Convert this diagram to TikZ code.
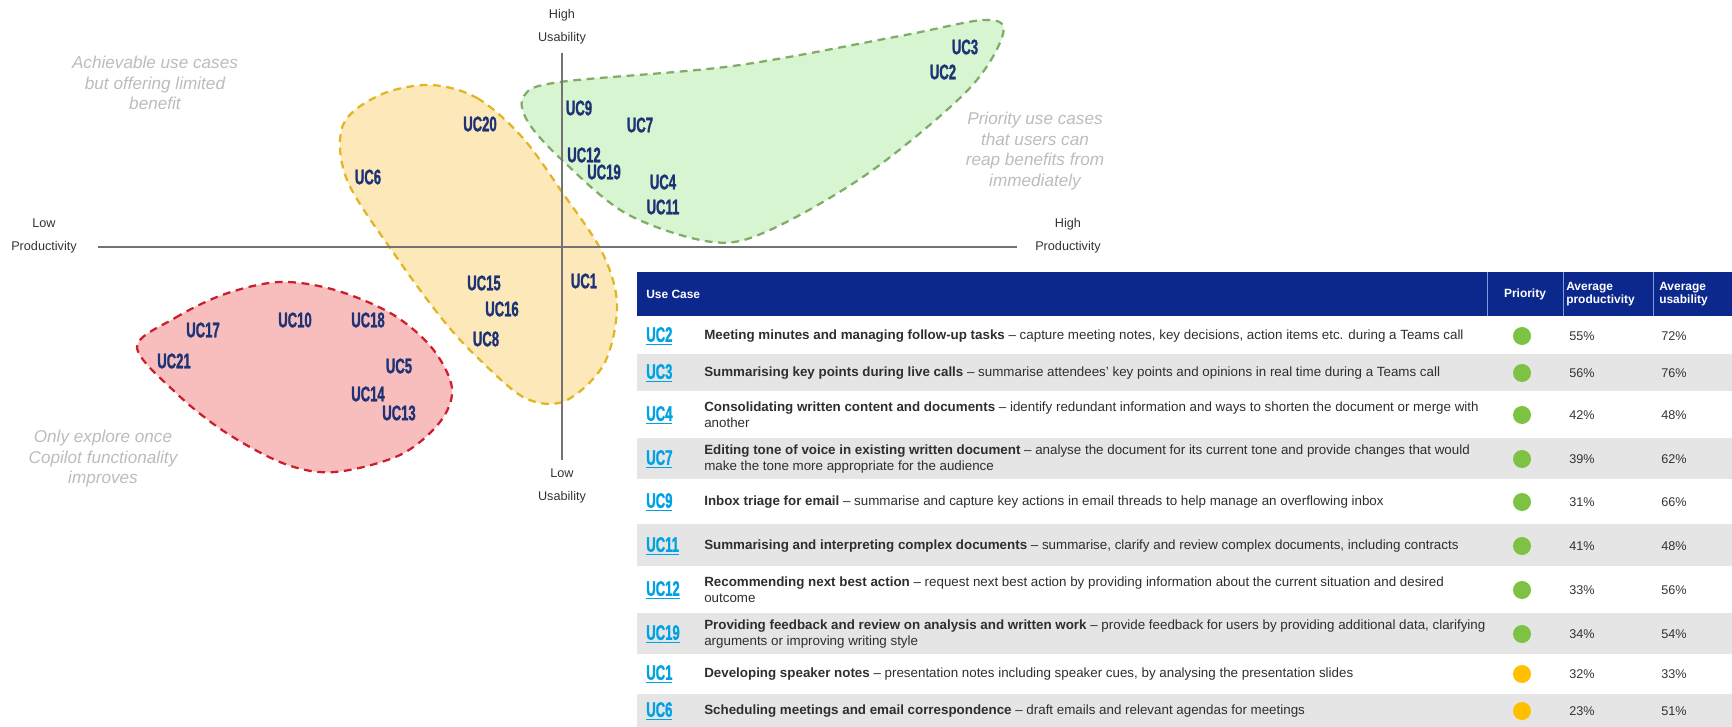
\documentclass[tikz,border=0pt]{standalone}
\usepackage{fontspec}
\setmainfont{Liberation Sans}
\newfontfamily\ucfont[FakeStretch=0.62,FakeBold=1.2]{Liberation Sans}
\usepackage{tikz}

\begin{document}
\begin{tikzpicture}[x=0.025cm,y=-0.025cm]
	\definecolor{ucnavy}{RGB}{30,50,118}
	\definecolor{uclink}{RGB}{0,162,228}
	\definecolor{hdblue}{RGB}{12,40,140}
	\definecolor{hdline}{RGB}{120,160,225}
	\definecolor{rowgrey}{RGB}{229,229,229}
	\definecolor{notegrey}{RGB}{188,188,188}
	\definecolor{gfill}{RGB}{214,245,208}
	\definecolor{gline}{RGB}{128,172,104}
	\definecolor{ofill}{RGB}{252,232,185}
	\definecolor{oline}{RGB}{224,182,36}
	\definecolor{rfill}{RGB}{248,190,190}
	\definecolor{rline}{RGB}{205,30,45}
	\definecolor{dotgreen}{RGB}{125,194,66}
	\definecolor{dotamber}{RGB}{255,192,0}
	\tikzset{
		uc/.style={
			text=ucnavy,
			inner sep=0pt,
			font=\ucfont\bfseries\fontsize{15}{15}\selectfont
		},
		link/.style={
			text=uclink,
			inner sep=0pt,
			anchor=west,
			font=\ucfont\bfseries\fontsize{15}{15}\selectfont
		},
		blob/.style={
			line width=1.6pt,
			dash pattern=on 5.5pt off 4pt
		},
		axis/.style={
			draw=black!55,
			line width=0.9pt
		},
		axlab/.style={
			align=center,
			inner sep=0pt,
			text=black!80,
			font=\fontsize{9}{16.4}\selectfont
		},
		note/.style={
			align=center,
			inner sep=0pt,
			text=notegrey,
			font=\itshape\fontsize{12.2}{14.6}\selectfont
		},
		desc/.style={
			anchor=west,
			align=left,
			inner sep=0pt,
			text=black!82,
			font=\fontsize{9.5}{11.4}\selectfont
		},
		hdtext/.style={
			inner sep=0pt,
			text=white,
			align=left,
			font=\bfseries\fontsize{8.5}{9.4}\selectfont
		},
		pct/.style={
			inner sep=0pt,
			text=black!80,
			font=\fontsize{9}{11}\selectfont
		},
		gdot/.style={circle, fill=dotgreen, minimum size=0.45cm, inner sep=0pt},
		adot/.style={circle, fill=dotamber, minimum size=0.45cm, inner sep=0pt}
	}
	\useasboundingbox (0,0) rectangle (1732,727);

	% ======= Vùng xanh: ưu tiên =======
	\draw[blob, draw=gline, fill=gfill] plot[smooth cycle, tension=0.55] coordinates {
		(524,96) (560,82) (733,66) (900,36) (985,20) (1003,34) (968,90)
		(870,172) (770,230) (712,242) (627,214) (562,160) (528,122)};

	% ======= Vùng cam =======
	\draw[blob, draw=oline, fill=ofill] plot[smooth cycle, tension=0.55] coordinates {
		(430,85) (477,98) (522,137) (562,192) (602,252) (617,305) (604,364)
		(565,401) (525,398) (480,360) (443,320) (395,255) (347,180) (343,125) (380,95)};

	% ======= Vùng đỏ =======
	\draw[blob, draw=rline, fill=rfill] plot[smooth cycle, tension=0.55] coordinates {
		(137,347) (175,318) (225,294) (280,282) (335,290) (392,314) (432,348)
		(452,388) (440,422) (400,455) (335,472) (285,464) (225,432) (175,392)};

	% ======= Trục =======
	\coordinate (ytop) at (562,53);
	\coordinate (ybot) at (562,460);
	\coordinate (xlft) at (98,247);
	\coordinate (xrgt) at (1017,247);
	\draw[axis] (xlft) -- (xrgt);
	\draw[axis] (ytop) -- (ybot);

	\node[axlab] (uhigh) at (562,27) {High\\Usability};
	\node[axlab] (ulow) at (562,486) {Low\\Usability};
	\node[axlab] (plow) at (44,236) {Low\\Productivity};
	\node[axlab] (phigh) at (1068,236) {High\\Productivity};

	\node[note] (nlimited) at (155,83) {Achievable use cases\\but offering limited\\benefit};
	\node[note] (npriority) at (1035,151) {Priority use cases\\that users can\\reap benefits from\\immediately};
	\node[note] (nexplore) at (103,459) {Only explore once\\Copilot functionality\\improves};

	% ======= Nhãn UC =======
	\node[uc] (u3) at (965,47) {UC3};
	\node[uc] (u2) at (943,72) {UC2};
	\node[uc] (u9) at (579,108) {UC9};
	\node[uc] (u7) at (640,125) {UC7};
	\node[uc] (u12) at (584,155) {UC12};
	\node[uc] (u19) at (604,172) {UC19};
	\node[uc] (u4) at (663,182) {UC4};
	\node[uc] (u11) at (663,207) {UC11};
	\node[uc] (u20) at (480,124) {UC20};
	\node[uc] (u6) at (368,177) {UC6};
	\node[uc] (u15) at (484,283) {UC15};
	\node[uc] (u16) at (502,309) {UC16};
	\node[uc] (u8) at (486,339) {UC8};
	\node[uc] (u1) at (584,281) {UC1};
	\node[uc] (u10) at (295,320) {UC10};
	\node[uc] (u18) at (368,320) {UC18};
	\node[uc] (u17) at (203,330) {UC17};
	\node[uc] (u21) at (174,361) {UC21};
	\node[uc] (u5) at (399,366) {UC5};
	\node[uc] (u14) at (368,394) {UC14};
	\node[uc] (u13) at (399,413) {UC13};

	% ======= Bảng =======
	\fill[hdblue] (637,272) rectangle (1732,316);
	\draw[hdline, line width=0.6pt] (1487,272) -- (1487,316);
	\draw[hdline, line width=0.6pt] (1563,272) -- (1563,316);
	\draw[hdline, line width=0.6pt] (1653,272) -- (1653,316);
	\node[hdtext, anchor=west] (husecase) at (646,294) {Use Case};
	\node[hdtext] (hprio) at (1525,294) {Priority};
	\node[hdtext, anchor=west] (hprod) at (1566,294) {Average\\productivity};
	\node[hdtext, anchor=west] (husab) at (1659,294) {Average\\usability};

	\fill[rowgrey] (637,354) rectangle (1732,391);
	\fill[rowgrey] (637,438) rectangle (1732,479);
	\fill[rowgrey] (637,524) rectangle (1732,566);
	\fill[rowgrey] (637,613) rectangle (1732,654);
	\fill[rowgrey] (637,694) rectangle (1732,727);

	\node[link] (l2) at (646,336) {\underline{UC2}};
	\node[desc] (d2) at (704,336) {\textbf{Meeting minutes and managing follow-up tasks} -- capture meeting notes, key decisions, action items etc. during a Teams call};
	\node[gdot] (s2) at (1522,336) {};
	\node[pct] (a2) at (1582,336) {55\%};
	\node[pct] (b2) at (1674,336) {72\%};

	\node[link] (l3) at (646,373) {\underline{UC3}};
	\node[desc] (d3) at (704,373) {\textbf{Summarising key points during live calls} -- summarise attendees' key points and opinions in real time during a Teams call};
	\node[gdot] (s3) at (1522,373) {};
	\node[pct] (a3) at (1582,373) {56\%};
	\node[pct] (b3) at (1674,373) {76\%};

	\node[link] (l4) at (646,415) {\underline{UC4}};
	\node[desc] (d4) at (704,415) {\textbf{Consolidating written content and documents} -- identify redundant information and ways to shorten the document or merge with\\another};
	\node[gdot] (s4) at (1522,415) {};
	\node[pct] (a4) at (1582,415) {42\%};
	\node[pct] (b4) at (1674,415) {48\%};

	\node[link] (l7) at (646,459) {\underline{UC7}};
	\node[desc] (d7) at (704,459) {\textbf{Editing tone of voice in existing written document} -- analyse the document for its current tone and provide changes that would\\make the tone more appropriate for the audience};
	\node[gdot] (s7) at (1522,459) {};
	\node[pct] (a7) at (1582,459) {39\%};
	\node[pct] (b7) at (1674,459) {62\%};

	\node[link] (l9) at (646,502) {\underline{UC9}};
	\node[desc] (d9) at (704,502) {\textbf{Inbox triage for email} -- summarise and capture key actions in email threads to help manage an overflowing inbox};
	\node[gdot] (s9) at (1522,502) {};
	\node[pct] (a9) at (1582,502) {31\%};
	\node[pct] (b9) at (1674,502) {66\%};

	\node[link] (l11) at (646,546) {\underline{UC11}};
	\node[desc] (d11) at (704,546) {\textbf{Summarising and interpreting complex documents} -- summarise, clarify and review complex documents, including contracts};
	\node[gdot] (s11) at (1522,546) {};
	\node[pct] (a11) at (1582,546) {41\%};
	\node[pct] (b11) at (1674,546) {48\%};

	\node[link] (l12) at (646,590) {\underline{UC12}};
	\node[desc] (d12) at (704,590) {\textbf{Recommending next best action} -- request next best action by providing information about the current situation and desired\\outcome};
	\node[gdot] (s12) at (1522,590) {};
	\node[pct] (a12) at (1582,590) {33\%};
	\node[pct] (b12) at (1674,590) {56\%};

	\node[link] (l19) at (646,634) {\underline{UC19}};
	\node[desc] (d19) at (704,634) {\textbf{Providing feedback and review on analysis and written work} -- provide feedback for users by providing additional data, clarifying\\arguments or improving writing style};
	\node[gdot] (s19) at (1522,634) {};
	\node[pct] (a19) at (1582,634) {34\%};
	\node[pct] (b19) at (1674,634) {54\%};

	\node[link] (l1) at (646,674) {\underline{UC1}};
	\node[desc] (d1) at (704,674) {\textbf{Developing speaker notes} -- presentation notes including speaker cues, by analysing the presentation slides};
	\node[adot] (s1) at (1522,674) {};
	\node[pct] (a1) at (1582,674) {32\%};
	\node[pct] (b1) at (1674,674) {33\%};

	\node[link] (l6) at (646,711) {\underline{UC6}};
	\node[desc] (d6) at (704,711) {\textbf{Scheduling meetings and email correspondence} -- draft emails and relevant agendas for meetings};
	\node[adot] (s6) at (1522,711) {};
	\node[pct] (a6) at (1582,711) {23\%};
	\node[pct] (b6) at (1674,711) {51\%};
\end{tikzpicture}
\end{document}
